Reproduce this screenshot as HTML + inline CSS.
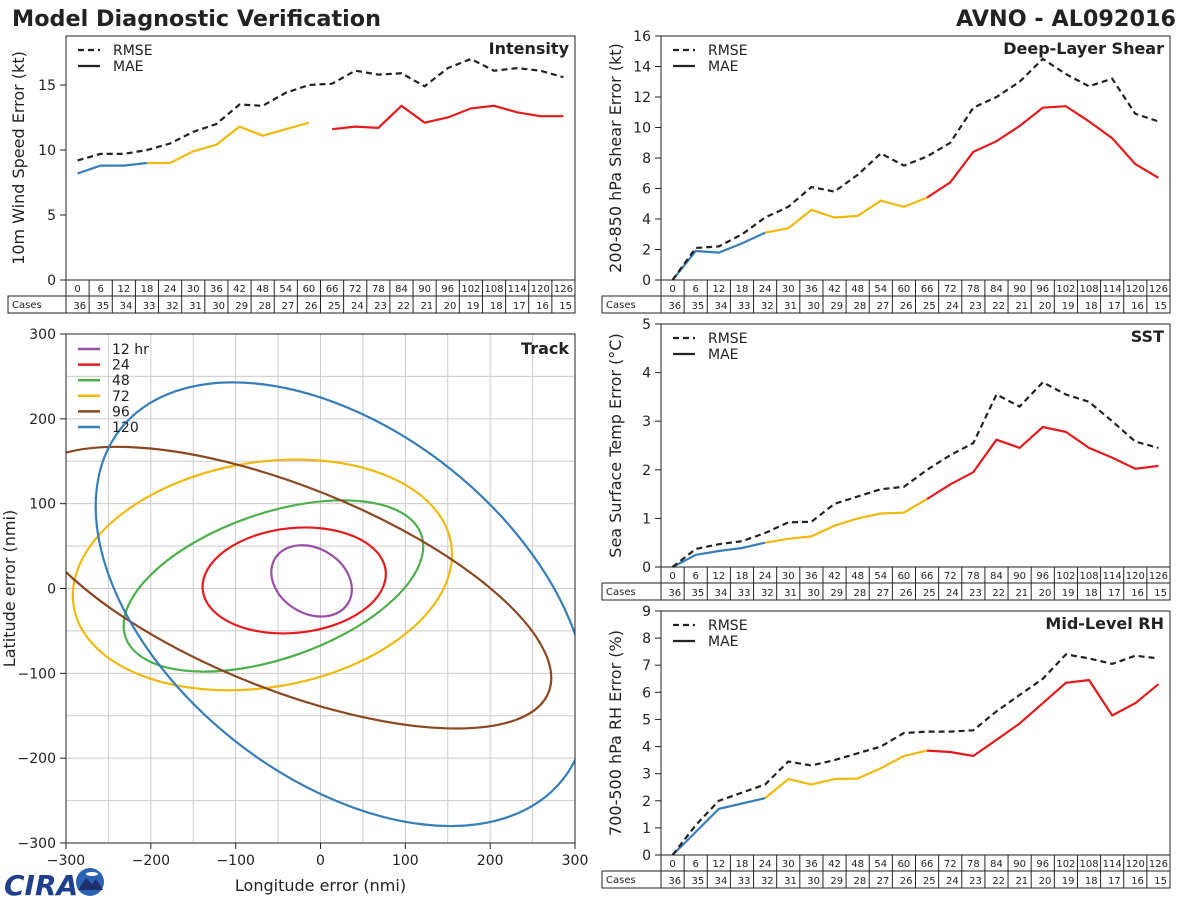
<!DOCTYPE html>
<html><head><meta charset="utf-8"><style>
html,body{margin:0;padding:0;background:#fff;}
svg{display:block;font-family:"DejaVu Sans","Liberation Sans",sans-serif;}
</style></head><body>
<svg id="chart" width="1200" height="900" viewBox="0 0 1200 900">
<text x="12" y="26" font-size="22.3" font-weight="bold" fill="#222">Model Diagnostic Verification</text>
<text x="1176" y="26" font-size="22.3" font-weight="bold" fill="#222" text-anchor="end">AVNO - AL092016</text>
<g>
<text x="4" y="895" font-size="28" font-weight="bold" fill="#1f3f8a" font-style="italic">CIRA</text>
<circle cx="90" cy="882" r="14" fill="#2a63b4"/>
<path d="M78 890 L86 878 L92 884 L96 879 L103 890 Z" fill="#1d2f6b"/>
<ellipse cx="92" cy="874" rx="6" ry="2" fill="#fff"/>
</g>
</svg>
<script>
const hours = [0,6,12,18,24,30,36,42,48,54,60,66,72,78,84,90,96,102,108,114,120,126];
const cases = [36,35,34,33,32,31,30,29,28,27,26,25,24,23,22,21,20,19,18,17,16,15];
const intensityRmse = [9.2,9.7,9.7,10.0,10.5,11.4,12.0,13.5,13.4,14.4,15.0,15.1,16.1,15.8,15.9,14.9,16.3,17.0,16.1,16.3,16.1,15.6];
const intensityMae = [8.2,8.8,8.8,9.0,9.0,9.9,10.4,11.8,11.1,11.6,12.1,11.6,11.8,11.7,13.4,12.1,12.5,13.2,13.4,12.9,12.6,12.6];
const shearRmse = [0,2.1,2.2,3.0,4.1,4.8,6.1,5.8,6.9,8.3,7.5,8.1,9.0,11.3,12.0,13.0,14.5,13.5,12.7,13.2,10.9,10.4];
const shearMae = [0,1.9,1.8,2.4,3.1,3.4,4.6,4.1,4.2,5.2,4.8,5.4,6.4,8.4,9.1,10.1,11.3,11.4,10.4,9.3,7.6,6.7];
const sstRmse = [0,0.37,0.47,0.53,0.7,0.92,0.93,1.3,1.45,1.6,1.65,2.0,2.3,2.55,3.55,3.3,3.8,3.55,3.4,3.0,2.58,2.45];
const sstMae = [0,0.25,0.33,0.39,0.5,0.58,0.63,0.85,1.0,1.1,1.12,1.4,1.7,1.95,2.62,2.45,2.88,2.78,2.45,2.25,2.02,2.08];
const rhRmse = [0,1.1,2.0,2.3,2.6,3.45,3.3,3.5,3.75,4.0,4.5,4.55,4.55,4.6,5.3,5.9,6.5,7.4,7.25,7.05,7.35,7.25];
const rhMae = [0,0.85,1.7,1.9,2.1,2.8,2.6,2.8,2.82,3.2,3.65,3.85,3.8,3.65,4.25,4.85,5.6,6.35,6.45,5.15,5.6,6.3];
const intensityTicks = [0,5,10,15];
const shearTicks = [0,2,4,6,8,10,12,14,16];
const sstTicks = [0,1,2,3,4,5];
const rhTicks = [0,1,2,3,4,5,6,7,8,9];
const trackLabels = ["12 hr","24","48","72","96","120"];
const trackCx = [-10.5,-31,-55.5,-68.5,-40,25];
const trackCy = [9,9.5,3,16,1,-18.5];
const trackA = [50.5,108.4,184.5,225.5,332.6,332.6];
const trackB = [38.3,61.8,85.6,132.6,119.5,204.5];
const trackAngle = [-31.5,5.9,19.1,9.5,-21.8,-38.4];
const trackTicks = [-300,-200,-100,0,100,200,300];

const svg = document.getElementById('chart');
const NS = 'http://www.w3.org/2000/svg';
function mk(tag, attrs, parent){const e=document.createElementNS(NS,tag);for(const k in attrs)e.setAttribute(k,attrs[k]);(parent||svg).appendChild(e);return e;}
const BLUE='#377eb8', YEL='#f0b90f', RED='#e41a1c';

function panel(p){
  const g = mk('g',{});
  
  
  const L=p.x, R=p.x+p.w, T=p.y, B=p.y+p.h;
  const n=hours.length, cw=p.w/n;
  const xs=i=>L+(i+0.5)*cw;
  const ys=v=>B-(v-p.ymin)/(p.ymax-p.ymin)*p.h;
  p.ticks.forEach(t=>{
    const y=ys(t);
    const tl=mk('line',{x1:L-6,x2:L,y1:y,y2:y,stroke:'#222','stroke-width':1},g);
    
    
    const tx=mk('text',{x:L-10,y:y+5,'font-size':14,fill:'#222','text-anchor':'end'},g);
    
    
    tx.textContent=t;
  });
  const yl=mk('text',{x:0,y:0,'font-size':16,fill:'#222','text-anchor':'middle',transform:`translate(${p.labelX},${(T+B)/2}) rotate(-90)`},g);
  
  
  yl.textContent=p.ylabel;
  p.segs.forEach(s=>{
    let d='';
    for(let i=s[0];i<=s[1];i++) d+=(i===s[0]?'M':'L')+xs(i).toFixed(1)+' '+ys(p.mae[i]).toFixed(1);
    const pl=mk('path',{d:d,fill:'none',stroke:s[2],'stroke-width':2.2},g);
    
    
  });
  let d='';
  p.rmse.forEach((v,i)=>{d+=(i?'L':'M')+xs(i).toFixed(1)+' '+ys(v).toFixed(1);});
  const rl=mk('path',{d:d,fill:'none',stroke:'#222','stroke-width':2.2,'stroke-dasharray':'6,4'},g);
  
  
  const fr=mk('rect',{x:L,y:T,width:p.w,height:p.h,fill:'none',stroke:'#222','stroke-width':1},g);
  
  
  const lg=mk('g',{},g);
  
  
  mk('line',{x1:L+12,x2:L+34,y1:T+14,y2:T+14,stroke:'#222','stroke-width':2.2,'stroke-dasharray':'6,4'},lg);
  mk('text',{x:L+47,y:T+19,'font-size':14,fill:'#222'},lg).textContent='RMSE';
  mk('line',{x1:L+12,x2:L+34,y1:T+30,y2:T+30,stroke:'#222','stroke-width':2.2},lg);
  mk('text',{x:L+47,y:T+35,'font-size':14,fill:'#222'},lg).textContent='MAE';
  const pt=mk('text',{x:R-6,y:T+18,'font-size':16,'font-weight':'bold',fill:'#222','text-anchor':'end'},g);
  
  
  pt.textContent=p.title;
  const tb=mk('g',{},g);
  
  
  const r1=B+16, r2=B+33;
  mk('rect',{x:L,y:B,width:p.w,height:16,fill:'none',stroke:'#222'},tb);
  mk('rect',{x:p.caseX,y:r1,width:R-p.caseX,height:17,fill:'none',stroke:'#222'},tb);
  mk('line',{x1:L,x2:L,y1:r1,y2:r2,stroke:'#222'},tb);
  mk('text',{x:p.caseX+4,y:r1+12,'font-size':10,fill:'#222'},tb).textContent='Cases';
  hours.forEach((h,i)=>{
    const x0=L+i*cw;
    if(i>0) mk('line',{x1:x0,x2:x0,y1:B,y2:r2,stroke:'#222'},tb);
    mk('text',{x:x0+cw/2,y:B+12,'font-size':10,fill:'#222','text-anchor':'middle'},tb).textContent=h;
    mk('text',{x:x0+cw-3,y:r1+13,'font-size':10,fill:'#222','text-anchor':'end'},tb).textContent=cases[i];
  });
}
panel({name:'intensity',x:66,y:36,w:509,h:244,ymin:0,ymax:18.77,ticks:intensityTicks,rmse:intensityRmse,mae:intensityMae,title:'Intensity',ylabel:'10m Wind Speed Error (kt)',labelX:24,caseX:8,segs:[[0,3,BLUE],[3,10,YEL],[11,21,RED]]});
panel({name:'shear',x:661,y:36,w:509,h:244,ymin:0,ymax:16,ticks:shearTicks,rmse:shearRmse,mae:shearMae,title:'Deep-Layer Shear',ylabel:'200-850 hPa Shear Error (kt)',labelX:621,caseX:602,segs:[[0,4,BLUE],[4,11,YEL],[11,21,RED]]});
panel({name:'sst',x:661,y:324,w:509,h:243,ymin:0,ymax:5,ticks:sstTicks,rmse:sstRmse,mae:sstMae,title:'SST',ylabel:'Sea Surface Temp Error (°C)',labelX:621,caseX:602,segs:[[0,4,BLUE],[4,11,YEL],[11,21,RED]]});
panel({name:'mid-level-rh',x:661,y:611,w:509,h:244,ymin:0,ymax:9,ticks:rhTicks,rmse:rhRmse,mae:rhMae,title:'Mid-Level RH',ylabel:'700-500 hPa RH Error (%)',labelX:621,caseX:602,segs:[[0,4,BLUE],[4,11,YEL],[11,21,RED]]});

(function(){
  const L=66,T=334,W=509,H=509,R=L+W,B=T+H;
  const g=mk('g',{});
  
  
  const xs=v=>L+(v+300)/600*W, ys=v=>B-(v+300)/600*H;
  for(let v=-250;v<300;v+=50){
    mk('line',{x1:xs(v),x2:xs(v),y1:T,y2:B,stroke:'#ccc','stroke-width':1},g);
    mk('line',{x1:L,x2:R,y1:ys(v),y2:ys(v),stroke:'#ccc','stroke-width':1},g);
  }
  const cols=['#984ea3','#e41a1c','#4daf4a','#f0b90f','#8b4720','#377eb8'];
  const cp=mk('clipPath',{id:'tc'},g);
  mk('rect',{x:L,y:T,width:W,height:H},cp);
  const eg=mk('g',{'clip-path':'url(#tc)'},g);
  const k=W/600;
  trackLabels.forEach((lab,i)=>{
    const e=mk('ellipse',{cx:xs(trackCx[i]),cy:ys(trackCy[i]),rx:trackA[i]*k,ry:trackB[i]*k,fill:'none',stroke:cols[i],'stroke-width':2.2,transform:`rotate(${-trackAngle[i]} ${xs(trackCx[i])} ${ys(trackCy[i])})`},eg);
    
    
    const ly=T+15+i*15.6;
    const ll=mk('line',{x1:L+12,x2:L+34,y1:ly,y2:ly,stroke:cols[i],'stroke-width':2.5},g);
    
    
    mk('text',{x:L+46,y:ly+5,'font-size':14,fill:'#222'},g).textContent=lab;
  });
  mk('rect',{x:L,y:T,width:W,height:H,fill:'none',stroke:'#222'},g);
  trackTicks.forEach(t=>{
    mk('line',{x1:xs(t),x2:xs(t),y1:B,y2:B+6,stroke:'#222'},g);
    const a=mk('text',{x:xs(t),y:B+22,'font-size':14,fill:'#222','text-anchor':'middle'},g);
    
    
    a.textContent=t<0?'\u2212'+(-t):t;
    mk('line',{x1:L-6,x2:L,y1:ys(t),y2:ys(t),stroke:'#222'},g);
    const b=mk('text',{x:L-10,y:ys(t)+5,'font-size':14,fill:'#222','text-anchor':'end'},g);
    
    
    b.textContent=t<0?'\u2212'+(-t):t;
  });
  const tt=mk('text',{x:R-6,y:T+20,'font-size':16,'font-weight':'bold',fill:'#222','text-anchor':'end'},g);
  
  
  tt.textContent='Track';
  const xl=mk('text',{x:(L+R)/2,y:891,'font-size':16,fill:'#222','text-anchor':'middle'},g);
  
  
  xl.textContent='Longitude error (nmi)';
  const yl=mk('text',{x:0,y:0,'font-size':16,fill:'#222','text-anchor':'middle',transform:`translate(15,${(T+B)/2}) rotate(-90)`},g);
  
  
  yl.textContent='Latitude error (nmi)';
})();
</script>
</body></html>
